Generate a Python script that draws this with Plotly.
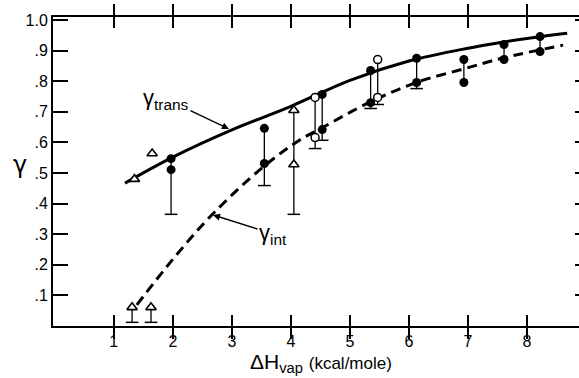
import plotly.graph_objects as go

# ---- data ----
solid_x = [1.19, 2.0, 3.0, 4.0, 5.0, 6.0, 7.0, 7.5, 8.0, 8.68]
solid_y = [0.467, 0.552, 0.641, 0.718, 0.803, 0.866, 0.908, 0.925, 0.940, 0.957]

dash_x = [1.39, 2.0, 2.66, 3.53, 4.15, 4.5, 5.34, 6.14, 6.92, 7.59, 8.61]
dash_y = [0.069, 0.218, 0.363, 0.52, 0.608, 0.645, 0.732, 0.797, 0.84, 0.876, 0.918]

fill_x = [1.97, 3.55, 4.53, 5.35, 6.13, 6.93, 7.61, 8.22]
fill_upper = [0.547, 0.646, 0.757, 0.835, 0.875, 0.871, 0.920, 0.946]
fill_lower = [0.511, 0.531, 0.642, 0.730, 0.796, 0.796, 0.871, 0.897]

open_x = [4.41, 5.47]
open_upper = [0.747, 0.871]
open_lower = [0.616, 0.747]

tri_x = [1.35, 1.65, 4.05, 4.05, 1.31, 1.63]
tri_y = [0.48, 0.564, 0.705, 0.528, 0.061, 0.061]

bar_x = [1.97, 3.55, 4.41, 4.53, 5.35, 5.47, 6.13, 6.93, 7.61, 8.22, 4.05, 1.31, 1.63]
bar_top = [0.547, 0.646, 0.747, 0.757, 0.835, 0.871, 0.875, 0.871, 0.920, 0.946, 0.705, 0.061, 0.061]
bar_bottom = [0.365, 0.459, 0.58, 0.607, 0.711, 0.724, 0.776, 0.796, 0.871, 0.897, 0.365, 0.012, 0.012]
bar_cap = [True, True, True, True, True, True, True, False, False, False, True, True, True]

y_ticks = [0.1, 0.2, 0.3, 0.4, 0.5, 0.6, 0.7, 0.8, 0.9, 1.0]
y_ticktext = [".1", ".2", ".3", ".4", ".5", ".6", ".7", ".8", ".9", "1.0"]
x_ticks = [1, 2, 3, 4, 5, 6, 7, 8]
x_ticktext = ["1", "2", "3", "4", "5", "6", "7", "8"]

FONT = "Liberation Sans"
BLACK = "black"
X_RANGE = [-0.03, 8.88]
Y_RANGE = [0, 1.01]

fig = go.Figure()

fig.add_trace(go.Scatter(x=solid_x, y=solid_y, mode="lines",
                         line=dict(color=BLACK, width=3, shape="spline"),
                         hoverinfo="skip", showlegend=False))
fig.add_trace(go.Scatter(x=dash_x, y=dash_y, mode="lines",
                         line=dict(color=BLACK, width=3, shape="spline", dash="10px,6px"),
                         hoverinfo="skip", showlegend=False))

# vertical bars
vx, vy = [], []
for x, t, b in zip(bar_x, bar_top, bar_bottom):
    vx += [x, x, None]
    vy += [t, b, None]
fig.add_trace(go.Scatter(x=vx, y=vy, mode="lines", line=dict(color=BLACK, width=1.3),
                         hoverinfo="skip", showlegend=False))
# caps
cx = [x for x, c in zip(bar_x, bar_cap) if c]
cy = [b for b, c in zip(bar_bottom, bar_cap) if c]
fig.add_trace(go.Scatter(x=cx, y=cy, mode="markers",
                         marker=dict(symbol="line-ew", size=9, line=dict(color=BLACK, width=1.5)),
                         hoverinfo="skip", showlegend=False))

# markers
fig.add_trace(go.Scatter(x=fill_x + fill_x, y=fill_upper + fill_lower, mode="markers",
                         marker=dict(symbol="circle", size=9, color=BLACK),
                         showlegend=False))
fig.add_trace(go.Scatter(x=open_x + open_x, y=open_upper + open_lower, mode="markers",
                         marker=dict(symbol="circle", size=8, color="white",
                                     line=dict(color=BLACK, width=1.5)),
                         showlegend=False))
fig.add_trace(go.Scatter(x=tri_x, y=tri_y, mode="markers",
                         marker=dict(symbol="triangle-up", size=9, color="white",
                                     line=dict(color=BLACK, width=1.6)),
                         showlegend=False))
# invisible trace to activate the right tick axis
fig.add_trace(go.Scatter(x=[solid_x[0]], y=[solid_y[0]], yaxis="y2", mode="markers",
                         marker=dict(opacity=0), hoverinfo="skip", showlegend=False))

fig.update_layout(
    width=579, height=378,
    margin=dict(l=53, r=0, t=17, b=52),
    paper_bgcolor="white", plot_bgcolor="white",
    font=dict(family=FONT, color=BLACK, size=16),
    xaxis=dict(range=X_RANGE, tickvals=x_ticks, ticktext=x_ticktext,
               ticks="inside", ticklen=11, tickwidth=1.6, tickcolor=BLACK,
               showline=True, linewidth=2, linecolor=BLACK, mirror="allticks",
               showgrid=False, zeroline=False, tickfont=dict(size=16)),
    yaxis=dict(range=Y_RANGE, tickvals=y_ticks, ticktext=y_ticktext,
               ticks="inside", ticklen=15, tickwidth=1.5, tickcolor=BLACK,
               showline=True, linewidth=2, linecolor=BLACK,
               showgrid=False, zeroline=False, tickfont=dict(size=16)),
    yaxis2=dict(range=Y_RANGE, overlaying="y", side="right", tickvals=y_ticks,
                ticks="inside", ticklen=4, tickwidth=1.5, tickcolor=BLACK,
                showticklabels=False, showline=False, showgrid=False, zeroline=False),
    annotations=[
        dict(xref="paper", yref="paper", x=-0.063, y=0.52, xanchor="center", yanchor="middle",
             text="γ", showarrow=False, font=dict(size=24, family="DejaVu Sans")),
        dict(x=2.95, y=0.644, xref="x", yref="y", text="γ<sub>trans</sub>",
             showarrow=True, ax=-63, ay=-30, arrowhead=2, arrowsize=1, arrowwidth=1.4,
             arrowcolor=BLACK, font=dict(size=22, family=FONT)),
        dict(x=2.68, y=0.363, xref="x", yref="y", text="γ<sub>int</sub>",
             showarrow=True, ax=60, ay=19, arrowhead=2, arrowsize=1, arrowwidth=1.4,
             arrowcolor=BLACK, font=dict(size=22, family=FONT)),
        dict(xref="paper", yref="paper", x=0.51, y=-0.12, xanchor="center", yanchor="middle",
             text="ΔH<sub>vap</sub> <span style='font-size:17px'>(kcal/mole)</span>",
             showarrow=False, font=dict(size=21, family=FONT)),
    ],
)

fig.write_html("out.html", config={"displayModeBar": False},
               post_script="document.body.style.margin='0';document.body.style.padding='0';"
                           "document.body.style.overflow='hidden';")
